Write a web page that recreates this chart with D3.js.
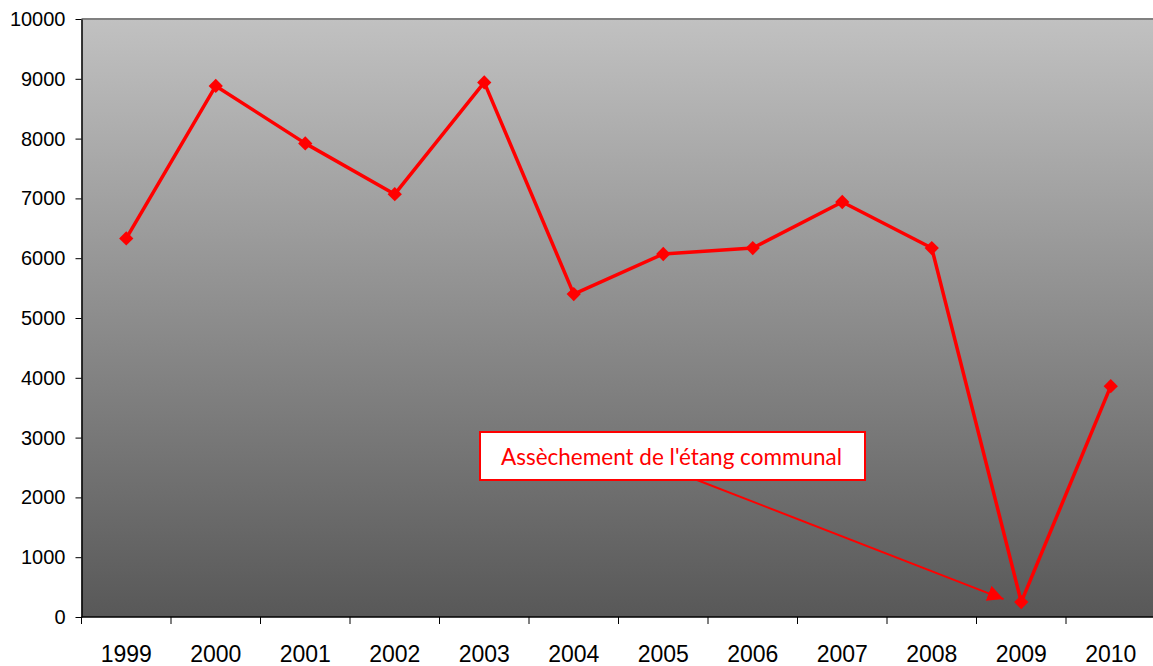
<!DOCTYPE html>
<html>
<head>
<meta charset="utf-8">
<script src="https://cdn.jsdelivr.net/npm/d3@7"></script>
<style>
  body { margin: 0; background: #fff; }
  svg { display: block; }
  .ax text { font-family: 'Liberation Sans', Arial, sans-serif; font-size: 20px; fill: #000; }
  .ax .lbl { font-size: 23px; }
</style>
</head>
<body>
<script>
var years = ['1999', '2000', '2001', '2002', '2003', '2004', '2005', '2006', '2007', '2008', '2009', '2010'];
var values = [6330, 8880, 7920, 7070, 8940, 5400, 6070, 6170, 6940, 6170, 250, 3860];
var yTicks = [0, 1000, 2000, 3000, 4000, 5000, 6000, 7000, 8000, 9000, 10000];
var noteText = "Assèchement de l'étang communal";

var width = 1153, height = 666;
var margin = {top: 19, left: 81.5, bottom: 48};
var plotW = 89.5 * years.length;
var plotH = height - margin.top - margin.bottom - 1;

var svg = d3.select('body').append('svg')
  .attr('width', width)
  .attr('height', height);

var defs = svg.append('defs');
var grad = defs.append('linearGradient')
  .attr('id', 'bg')
  .attr('x1', 0).attr('y1', 0).attr('x2', 0).attr('y2', 1);
grad.append('stop').attr('offset', '0%').attr('stop-color', '#c1c1c1');
grad.append('stop').attr('offset', '100%').attr('stop-color', '#585858');

var marker = defs.append('marker')
  .attr('id', 'arrow')
  .attr('viewBox', '0 0 10 10')
  .attr('refX', 10).attr('refY', 5)
  .attr('markerWidth', 8).attr('markerHeight', 8)
  .attr('markerUnits', 'strokeWidth')
  .attr('orient', 'auto');
marker.append('path').attr('d', 'M0,0L10,5L0,10z').attr('fill', '#ff0000');

var g = svg.append('g').attr('transform', 'translate(' + margin.left + ',' + margin.top + ')');

var x = d3.scaleBand().domain(years).range([0, plotW]);
var y = d3.scaleLinear().domain([0, 10000]).range([plotH, 0]);

g.append('rect')
  .attr('width', plotW)
  .attr('height', plotH)
  .attr('fill', 'url(#bg)');

g.append('line')
  .attr('x1', 0).attr('x2', plotW)
  .attr('y1', 0).attr('y2', 0)
  .attr('stroke', '#808080')
  .attr('stroke-width', 2);

// y axis
var yAxis = g.append('g').attr('class', 'ax')
  .call(d3.axisLeft(y).tickValues(yTicks).tickFormat(d3.format('d'))
    .tickSize(6).tickPadding(10).tickSizeOuter(0));
yAxis.attr('font-family', null).attr('font-size', null);
yAxis.select('.domain').attr('stroke', '#000').attr('stroke-width', 1.5);
yAxis.selectAll('.tick line').attr('stroke', '#000');

// x axis (ticks on band edges)
var xAxis = g.append('g').attr('class', 'ax').attr('transform', 'translate(0,' + plotH + ')');
xAxis.append('line')
  .attr('x1', 0).attr('x2', plotW)
  .attr('stroke', '#000').attr('stroke-width', 1.5);
xAxis.selectAll('.edge')
  .data(years)
  .enter().append('line')
  .attr('class', 'edge')
  .attr('x1', function(d) { return x(d); })
  .attr('x2', function(d) { return x(d); })
  .attr('y1', 0).attr('y2', 7)
  .attr('stroke', '#000');
xAxis.selectAll('.lbl')
  .data(years)
  .enter().append('text')
  .attr('class', 'lbl')
  .attr('x', function(d) { return x(d) + x.bandwidth() / 2; })
  .attr('y', 45)
  .attr('text-anchor', 'middle')
  .text(function(d) { return d; });

var cx = function(d, i) { return x(years[i]) + x.bandwidth() / 2; };

var line = d3.line()
  .x(function(d, i) { return cx(d, i); })
  .y(function(d) { return y(d); });

g.append('path')
  .datum(values)
  .attr('d', line)
  .attr('fill', 'none')
  .attr('stroke', '#ff0000')
  .attr('stroke-width', 3.5)
  .attr('stroke-linejoin', 'round');

g.selectAll('.pt')
  .data(values)
  .enter().append('path')
  .attr('class', 'pt')
  .attr('d', d3.symbol().type(d3.symbolDiamond2).size(130))
  .attr('transform', function(d, i) { return 'translate(' + cx(d, i) + ',' + y(d) + ')'; })
  .attr('fill', '#ff0000');

// annotation
var boxX = 480 - margin.left, boxY = 432 - margin.top, boxW = 385, boxH = 48;
g.append('line')
  .attr('x1', boxX + 217).attr('y1', boxY + boxH)
  .attr('x2', x('2009') + 27).attr('y2', y(300))
  .attr('stroke', '#ff0000')
  .attr('stroke-width', 2)
  .attr('marker-end', 'url(#arrow)');

g.append('rect')
  .attr('x', boxX).attr('y', boxY)
  .attr('width', boxW).attr('height', boxH)
  .attr('fill', '#fff')
  .attr('stroke', '#ff0000')
  .attr('stroke-width', 2);

g.append('text')
  .attr('x', boxX + boxW / 2 - 1)
  .attr('y', boxY + 33)
  .attr('text-anchor', 'middle')
  .attr('font-family', 'Lato, Open Sans, sans-serif')
  .attr('font-size', 22.5)
  .attr('fill', '#ff0000')
  .text(noteText);
</script>
</body>
</html>
